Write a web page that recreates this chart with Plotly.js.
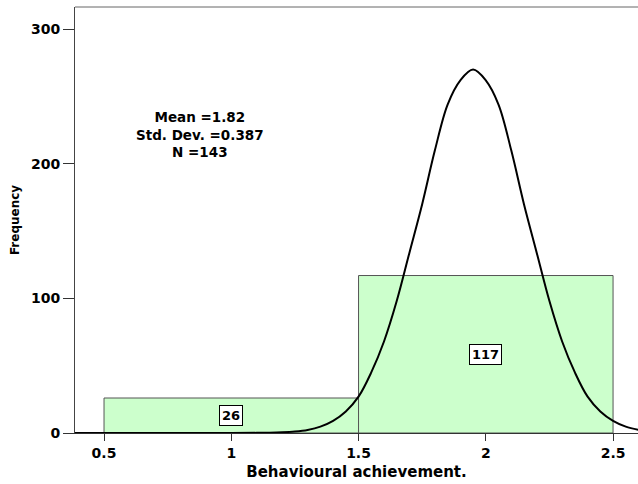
<!DOCTYPE html>
<html>
<head>
<meta charset="utf-8">
<script src="https://cdn.plot.ly/plotly-3.0.1.min.js"></script>
<style>
  html, body { margin: 0; padding: 0; background: #fff; }
  #chart { width: 638px; height: 484px; }
</style>
</head>
<body>
<div id="chart"></div>
<script>
// Histogram bins (centre, width) and counts
const binCentres = [1, 2];
const binWidths = [1, 1];
const counts = [26, 117];

// Fitted normal curve, sampled every 0.05 around the peak
const curveX = [0.386, 0.6, 0.8, 1.0, 1.1, 1.15, 1.2, 1.25, 1.3, 1.35, 1.4, 1.45, 1.5, 1.55, 1.6, 1.65, 1.7, 1.75, 1.8, 1.85, 1.9, 1.95, 2.0, 2.05, 2.1, 2.15, 2.2, 2.25, 2.3, 2.35, 2.4, 2.45, 2.5, 2.55, 2.6];
const curveY = [0, 0, 0, 0, 0.1, 0.2, 0.5, 1.1, 2.3, 4.7, 9, 16, 27, 45, 68, 98, 134, 170, 210, 244, 262, 270, 262, 244, 210, 170, 134, 98, 68, 45, 27, 16, 9, 4.7, 2.3];

// Axis ticks
const xTicks = [0.5, 1, 1.5, 2, 2.5];
const xTickText = ['0.5', '1', '1.5', '2', '2.5'];
const yTicks = [0, 100, 200, 300];

// Summary statistics
const statLines = ['Mean =1.82', 'Std. Dev. =0.387', 'N =143'];

const FONT = 'DejaVu Sans, Arial, sans-serif';

const bars = {
  type: 'bar',
  x: binCentres,
  y: counts,
  width: binWidths,
  marker: { color: 'rgb(204,255,204)', line: { color: '#555555', width: 1 } },
  hoverinfo: 'skip'
};

const curve = {
  type: 'scatter',
  mode: 'lines',
  x: curveX,
  y: curveY,
  line: { color: '#000000', width: 2, shape: 'spline', smoothing: 1 },
  hoverinfo: 'skip'
};

const countLabels = counts.map((c, i) => ({
  x: binCentres[i],
  y: c / 2,
  xref: 'x', yref: 'y',
  text: String(c),
  showarrow: false,
  bgcolor: '#ffffff',
  bordercolor: '#000000',
  borderwidth: 1,
  borderpad: 2,
  font: { family: FONT, size: 13, color: '#000', weight: 'bold' }
}));

const statsLabel = {
  x: 0.877, y: 221.5,
  xref: 'x', yref: 'y',
  text: statLines.join('<br>'),
  showarrow: false,
  align: 'center',
  font: { family: FONT, size: 13.5, color: '#000', weight: 'bold' }
};

const layout = {
  width: 638,
  height: 484,
  margin: { l: 75, r: 0, t: 7, b: 51 },
  paper_bgcolor: '#ffffff',
  plot_bgcolor: '#ffffff',
  showlegend: false,
  bargap: 0,
  xaxis: {
    range: [0.386, 2.598],
    tickvals: xTicks,
    ticktext: xTickText,
    ticks: 'outside',
    ticklen: 7,
    tickcolor: '#333',
    showline: true,
    linecolor: '#333',
    linewidth: 1,
    showgrid: false,
    zeroline: false,
    tickfont: { family: FONT, size: 14, color: '#000', weight: 'bold' },
    title: { text: 'Behavioural achievement.', standoff: 6,
             font: { family: FONT, size: 15, color: '#000', weight: 'bold' } }
  },
  yaxis: {
    range: [0, 316.5],
    tickvals: yTicks,
    ticks: 'outside',
    ticklen: 11,
    tickcolor: '#333',
    showline: true,
    linecolor: '#444',
    linewidth: 1,
    showgrid: false,
    zeroline: false,
    tickfont: { family: FONT, size: 14, color: '#000', weight: 'bold' },
    title: { text: 'Frequency', standoff: 8,
             font: { family: FONT, size: 12, color: '#000', weight: 'bold' } }
  },
  shapes: [
    { type: 'line', xref: 'paper', yref: 'paper', x0: 0, x1: 1, y0: 1, y1: 1,
      line: { color: '#666', width: 1 } }
  ],
  annotations: countLabels.concat([statsLabel])
};

Plotly.newPlot('chart', [bars, curve], layout, { displayModeBar: false, staticPlot: true });
</script>
</body>
</html>
